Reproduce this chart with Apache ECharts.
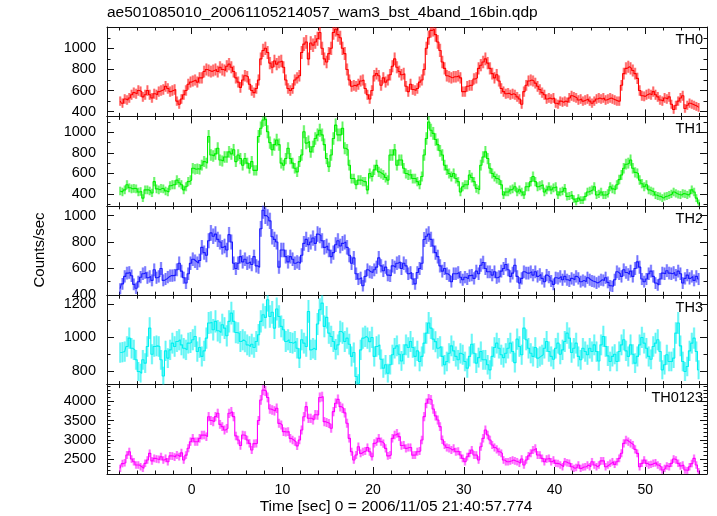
<!DOCTYPE html>
<html><head><meta charset="utf-8">
<script src="https://cdn.jsdelivr.net/npm/echarts@6/dist/echarts.min.js"></script>
<style>html,body{margin:0;padding:0;background:#fff}#c{width:717px;height:516px}</style>
</head><body><div id="c"></div>
<script>
// ---- data: count rates (counts/sec), 0.25 s bins starting at t = -8 s ----
const binStart = -8;
const binWidth = 0.25;
const panelNames = ['TH0', 'TH1', 'TH2', 'TH3', 'TH0123'];
const TH0 = [
500,480,520,510, 530,560,580,570, 600,590,540,560, 600,560,530,570,
560,590,600,610, 640,620,590,600, 610,500,470,520, 560,600,660,680,
690,700,680,720, 720,780,800,790, 780,790,800,780, 820,800,790,830,
850,820,780,720, 680,630,700,740, 730,660,600,580, 620,700,900,980,
1000,960,860,820, 880,850,870,880, 820,700,620,600, 620,700,720,740,
960,1040,1060,900, 1050,1030,1060,1090, 1150,1000,900,870, 950,1000,1150,1180,
1130,1100,1000,950, 800,700,640,650, 640,660,690,700, 620,560,520,600,
740,760,740,650, 720,680,700,750, 830,900,820,780, 750,760,640,590,
660,610,600,620, 680,700,800,1000, 1100,1170,1180,1130, 1060,980,870,810,
740,730,720,730, 730,740,720,590, 590,640,650,650, 710,720,810,840,
870,900,860,810, 760,720,750,690, 620,590,570,575, 560,570,560,540,
520,470,590,650, 690,700,690,670, 640,610,580,560, 520,530,520,530,
480,470,500,490, 500,490,530,550, 540,530,510,520, 500,510,520,500,
480,500,520,530, 520,530,510,520, 530,520,510,500, 500,650,760,810,
825,810,790,760, 715,600,550,545, 560,570,560,590, 560,540,510,500,
530,520,540,470, 420,460,500,530, 550,430,460,480, 470,460,450,440
];
const TH1 = [
430,420,440,490, 460,450,455,450, 420,425,360,440, 440,430,410,520,
450,440,455,450, 430,420,480,490, 490,535,510,490, 440,470,520,535,
650,640,645,640, 680,715,700,960, 780,770,790,845, 730,720,760,760,
810,790,830,715, 780,745,680,745, 700,650,715,630, 630,960,1040,1120,
1130,1005,900,830, 880,925,880,700, 680,745,845,745, 700,650,615,715,
780,1005,895,910, 810,860,940,975, 1020,975,880,745, 665,780,940,1070,
975,975,1040,845, 830,680,550,550, 490,535,535,520, 520,440,600,570,
635,680,615,600, 585,560,535,780, 780,830,680,730, 730,650,600,585,
590,550,550,520, 490,570,780,940, 1100,1020,990,930, 880,820,780,680,
635,600,570,600, 550,520,420,470, 490,490,585,560, 520,455,440,680,
760,810,745,650, 600,570,550,535, 490,390,420,420, 440,450,470,420,
440,420,390,470, 470,520,570,520, 470,480,490,420, 440,470,440,460,
470,390,420,430, 455,375,380,390, 350,325,360,340, 340,375,420,430,
440,470,390,400, 420,390,390,405, 470,450,440,490, 540,585,650,690,
700,730,650,610, 600,535,500,470, 490,440,430,420, 390,380,375,360,
375,380,390,400, 420,405,395,390, 405,400,390,405, 440,420,360,310
];
const TH2 = [
447,484,540,565, 570,545,480,450, 500,534,560,570, 530,540,510,590,
530,540,600,510, 520,535,546,546, 550,590,640,580, 530,490,560,640,
670,655,640,660, 760,720,700,810, 869,844,860,820, 800,760,770,740,
856,800,640,600, 640,690,650,670, 640,650,630,690, 620,610,900,1040,
1000,985,960,840, 820,800,610,740, 740,690,650,690, 670,640,650,640,
700,790,820,780, 800,830,790,860, 850,810,760,770, 740,690,720,780,
810,770,790,800, 760,700,640,680, 560,520,530,470, 540,590,575,570,
590,610,680,620, 583,610,550,545, 620,610,640,650, 600,640,620,560,
570,520,484,570, 600,640,819,844, 860,820,770,720, 690,620,580,600,
560,546,500,560, 560,570,534,515, 534,521,546,550, 525,580,560,625,
645,600,575,575, 550,575,530,540, 580,600,630,590, 540,565,625,540,
490,525,575,565, 565,575,550,575, 540,555,525,500, 550,535,505,480,
530,525,540,515, 540,515,505,525, 515,540,525,500, 510,500,530,515,
505,500,490,500, 515,510,530,495, 470,465,515,575, 560,540,590,570,
555,580,540,600, 650,610,520,500, 520,560,580,540, 490,475,520,565,
560,583,565,560, 570,550,580,560, 490,525,550,525, 540,510,540,520
];
const TH3 = [
910,912,916,946, 996,936,926,867, 797,787,867,847, 946,1056,900,946,
950,946,867,770, 920,877,926,966, 946,976,986,956, 936,926,966,970,
986,1006,916,940, 887,920,996,1086, 1090,1046,1096,1040, 1030,1076,1056,1010,
1096,1145,1096,1030, 1026,976,986,975, 956,946,960,940, 976,1016,1096,1135,
1120,1225,1125,1150, 1056,1170,1125,1066, 1046,976,986,970, 966,976,936,877,
986,966,946,1155, 926,936,926,1080, 1165,1205,1066,1120, 1026,1006,976,930,
956,1036,1026,976, 996,960,887,910, 767,727,926,996, 1006,996,975,1000,
887,946,956,870, 817,837,787,837, 897,936,950,900, 860,900,956,940,
976,940,887,920, 857,887,966,1026, 1086,1056,990,975, 936,946,887,837,
857,906,950,920, 887,867,905,897, 857,817,887,960, 906,847,880,916,
867,867,837,807, 887,940,966,936, 897,880,906,936, 966,916,850,990,
946,897,1056,986, 936,906,887,940, 877,887,897,936, 976,916,887,870,
936,966,900,926, 976,1026,996,910, 936,966,887,867, 936,916,897,936,
916,956,916,860, 956,1006,946,890, 857,887,900,857, 916,956,986,920,
887,956,900,847, 887,956,1000,966, 936,887,870,946, 966,986,916,807,
837,897,857,857, 877,1026,1086,950, 857,797,827,920, 966,996,916,807
];
const TH0123 = [
2257,2380,2404,2604, 2690,2500,2430,2343, 2343,2300,2257,2387, 2474,2647,2450,2517,
2500,2490,2560,2474, 2517,2430,2580,2577, 2550,2604,2560,2660, 2474,2600,2780,2950,
3037,2950,2950,3037, 3120,3124,3081,3600, 3500,3471,3601,3688, 3400,3341,3254,3297,
3688,3731,3601,3100, 2994,2850,3124,3110, 2994,2907,2734,2900, 2907,3500,4035,4290,
4270,4100,3800,3775, 3750,3818,3427,3384, 3211,3200,3211,3037, 2994,2950,2840,2994,
3254,3600,3861,3558, 3558,3514,3650,3644, 4100,4121,3471,3450, 3420,3300,3731,3950,
4050,3861,3818,3700, 3430,3037,2690,2474, 2604,2820,2647,2690, 2710,2800,2690,2560,
2907,2950,3037,2950, 2900,2777,2580,2604, 3037,3124,3167,3081, 2850,2864,2777,2800,
2800,2600,2604,2690, 2710,2994,3601,3948, 4060,4035,3800,3620, 3514,3341,3000,2864,
2800,2777,2734,2777, 2690,2700,2604,2517, 2430,2560,2647,2734, 2604,2600,2474,2820,
3037,3254,3124,2994, 2864,2800,2750,2690, 2647,2474,2430,2430, 2450,2474,2450,2430,
2387,2500,2343,2474, 2580,2650,2734,2777, 2604,2600,2517,2430, 2500,2517,2430,2474,
2387,2380,2343,2300, 2430,2400,2387,2300, 2257,2280,2343,2257, 2290,2300,2343,2300,
2430,2343,2300,2343, 2450,2450,2300,2343, 2387,2430,2360,2430, 2517,2650,2907,2994,
2950,2907,2864,2750, 2647,2300,2387,2474, 2387,2343,2360,2387, 2400,2343,2300,2213,
2257,2320,2300,2387, 2500,2474,2387,2320, 2343,2213,2200,2300, 2380,2517,2343,2170
];
const seriesData = [TH0, TH1, TH2, TH3, TH0123];

// ---- axes ----
const xMin = -9.33, xMax = 56.8;
const xMajorTicks = [0, 10, 20, 30, 40, 50];
const xMinorStep = 2;
const yMins = [355, 285, 398, 719, 2110];
const yMaxs = [1202, 1155, 1074, 1252, 4434];
const yTickLabels = [
  [400, 600, 800, 1000],
  [400, 600, 800, 1000],
  [400, 600, 800, 1000],
  [800, 1000, 1200],
  [2500, 3000, 3500, 4000]
];
const yMinorStep = [100, 100, 100, 100, 100];
const colors = ['#ff0000', '#00ee00', '#1a1aff', '#00f0f0', '#ff00ff'];

const titleText = 'ae501085010_20061105214057_wam3_bst_4band_16bin.qdp';
const xTitle = 'Time [sec] 0 = 2006/11/05 21:40:57.774';
const yTitle = 'Counts/sec';

// ---- layout ----
const FONT = '"Liberation Sans", Arial, Helvetica, sans-serif';
const gridLeft = 107, gridWidth = 600, gridTop = 27, panelH = 89.4;

function stepValues(min, max, step, exclude) {
  const out = [];
  for (let v = Math.ceil(min / step) * step; v <= max + 1e-9; v += step) {
    if (!exclude.some(e => Math.abs(e - v) < 1e-9)) out.push(v);
  }
  return out;
}
const xMinorTicks = stepValues(xMin, xMax, xMinorStep, xMajorTicks);

const grids = [], xAxes = [], yAxes = [], series = [], graphics = [];
const axisLineStyle = { color: '#111', width: 1 };
const plainFmt = v => String(v);

for (let k = 0; k < 5; k++) {
  grids.push({ left: gridLeft, width: gridWidth, top: gridTop + k * panelH, height: panelH });
  const isLast = k === 4;
  const xb = {
    type: 'value', gridIndex: k, min: xMin, max: xMax,
    splitLine: { show: false }, axisLine: { show: true, onZero: false, lineStyle: axisLineStyle }
  };
  const noLine = { show: false, onZero: false };
  xAxes.push(Object.assign({}, xb, {
    position: 'bottom',
    axisTick: { show: true, inside: true, length: 7, customValues: xMajorTicks, lineStyle: axisLineStyle },
    axisLabel: isLast ? { show: true, customValues: xMajorTicks, formatter: plainFmt, fontSize: 14, fontFamily: FONT, color: '#000', margin: 9 } : { show: false }
  }));
  xAxes.push(Object.assign({}, xb, {
    position: 'bottom', axisLine: noLine,
    axisTick: { show: true, inside: true, length: 3.5, customValues: xMinorTicks, lineStyle: axisLineStyle },
    axisLabel: { show: false }
  }));
  xAxes.push(Object.assign({}, xb, {
    position: 'top',
    axisTick: { show: true, inside: true, length: 7, customValues: xMajorTicks, lineStyle: axisLineStyle },
    axisLabel: { show: false }
  }));
  xAxes.push(Object.assign({}, xb, {
    position: 'top', axisLine: noLine,
    axisTick: { show: true, inside: true, length: 3.5, customValues: xMinorTicks, lineStyle: axisLineStyle },
    axisLabel: { show: false }
  }));

  const yMinor = stepValues(yMins[k], yMaxs[k], yMinorStep[k], yTickLabels[k]);
  const yb = {
    type: 'value', gridIndex: k, min: yMins[k], max: yMaxs[k],
    splitLine: { show: false }, axisLine: { show: true, onZero: false, lineStyle: axisLineStyle }
  };
  yAxes.push(Object.assign({}, yb, {
    position: 'left',
    axisTick: { show: true, inside: true, length: 7, customValues: yTickLabels[k], lineStyle: axisLineStyle },
    axisLabel: { show: true, customValues: yTickLabels[k], formatter: plainFmt, fontSize: 14.5, fontFamily: FONT, color: '#000', margin: 11 }
  }));
  yAxes.push(Object.assign({}, yb, {
    position: 'left', axisLine: noLine,
    axisTick: { show: true, inside: true, length: 3.5, customValues: yMinor, lineStyle: axisLineStyle },
    axisLabel: { show: false }
  }));
  yAxes.push(Object.assign({}, yb, {
    position: 'right',
    axisTick: { show: true, inside: true, length: 7, customValues: yTickLabels[k], lineStyle: axisLineStyle },
    axisLabel: { show: false }
  }));
  yAxes.push(Object.assign({}, yb, {
    position: 'right', axisLine: noLine,
    axisTick: { show: true, inside: true, length: 3.5, customValues: yMinor, lineStyle: axisLineStyle },
    axisLabel: { show: false }
  }));

  const c = colors[k];
  const pts = seriesData[k].map((v, i) => [binStart + binWidth * (i + 0.5), v]);
  const data = seriesData[k].map((v, i) => [binStart + binWidth * (i + 0.5), v, Math.sqrt(v / binWidth)]);
  // error bars
  series.push({
    type: 'custom', name: panelNames[k] + ' err', xAxisIndex: k * 4, yAxisIndex: k * 4,
    clip: true, silent: true, animation: false,
    data: data,
    renderItem: function (params, api) {
      const t = api.value(0), v = api.value(1), e = api.value(2);
      const pt = api.coord([t, v + e]);
      const pb = api.coord([t, v - e]);
      return {
        type: 'group', children: [
          { type: 'line', shape: { x1: pt[0], y1: pt[1], x2: pb[0], y2: pb[1] }, style: { stroke: c, lineWidth: 2.4, opacity: 0.42 } },
          { type: 'line', shape: { x1: pt[0], y1: pt[1], x2: pb[0], y2: pb[1] }, style: { stroke: c, lineWidth: 0.7, opacity: 0.55 } }
        ]
      };
    }
  });
  // binned step curve
  series.push({
    type: 'line', name: panelNames[k], xAxisIndex: k * 4, yAxisIndex: k * 4,
    step: 'middle', showSymbol: false, symbol: 'none', silent: true, animation: false,
    clip: true, data: pts,
    lineStyle: { color: c, width: 1.1 }
  });

  graphics.push({
    type: 'text', x: gridLeft + gridWidth - 4, y: gridTop + k * panelH + 13,
    style: { text: panelNames[k], font: '14.5px ' + FONT, fill: '#000', align: 'right', verticalAlign: 'middle' }
  });
}

graphics.push({ type: 'text', x: 107, y: 13, style: { text: titleText, font: '15.5px ' + FONT, fill: '#000', align: 'left', verticalAlign: 'middle' } });
graphics.push({ type: 'text', x: 396, y: 507, style: { text: xTitle, font: '15.5px ' + FONT, fill: '#000', align: 'center', verticalAlign: 'middle' } });
graphics.push({ type: 'text', x: 40, y: 250, rotation: Math.PI / 2, style: { text: yTitle, font: '15px ' + FONT, fill: '#000', align: 'center', verticalAlign: 'middle' } });

const chart = echarts.init(document.getElementById('c'), null, { renderer: 'canvas' });
chart.setOption({
  backgroundColor: '#fff',
  animation: false,
  grid: grids,
  xAxis: xAxes,
  yAxis: yAxes,
  series: series,
  graphic: graphics
});
</script>
</body></html>
